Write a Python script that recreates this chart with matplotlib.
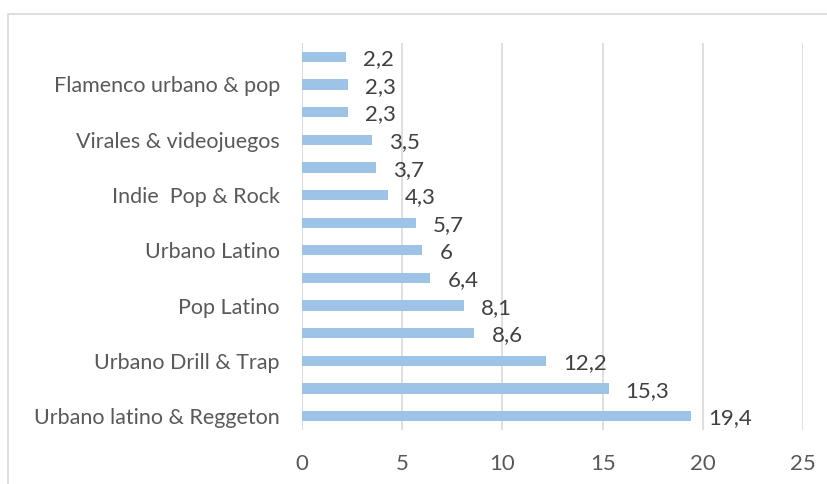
import matplotlib.pyplot as plt
from matplotlib.patches import Rectangle

# categorias de abajo hacia arriba (las impares no se rotulan en el eje)
generos = ['Urbano latino & Reggeton', '', 'Urbano Drill & Trap', '', 'Pop Latino', '',
           'Urbano Latino', '', 'Indie  Pop & Rock', '', 'Virales & videojuegos', '',
           'Flamenco urbano & pop', '']
porcentajes = [19.4, 15.3, 12.2, 8.6, 8.1, 6.4, 6, 5.7, 4.3, 3.7, 3.5, 2.3, 2.3, 2.2]
ticks_x = [0, 5, 10, 15, 20, 25]

plt.rcParams['font.family'] = ['Lato', 'DejaVu Sans']
gris = '#595959'

fig = plt.figure(figsize=(8.27, 4.84), dpi=100)
# marco del grafico
fig.patches.append(Rectangle((8 / 827, -0.1), 1.2, 0.1 + 470 / 484, transform=fig.transFigure,
                             fill=False, edgecolor='#d9d9d9', linewidth=1.2))
ax = fig.add_axes([302 / 827, 54 / 484, 501 / 827, 387 / 484])

pos = list(range(len(porcentajes)))
ax.barh(pos, porcentajes, height=0.37, color='#9dc3e6', zorder=3)
for y, v in zip(pos, porcentajes):
    txt = f'{v:g}'.replace('.', ',')
    ax.text(v + 0.85, y - 0.08, txt, va='center', ha='left', fontsize=16, color='#404040')

ax.set_xlim(0, 25)
ax.set_ylim(-0.5, len(porcentajes) - 0.5)
ax.set_xticks(ticks_x)
ax.set_xticklabels([str(t) for t in ticks_x], fontsize=16, color=gris)
ax.set_yticks(pos[::2])
ax.set_yticklabels(generos[::2], fontsize=15.5, color=gris)
ax.tick_params(length=0, pad=17, axis='x')
ax.tick_params(length=0, pad=16, axis='y')
ax.grid(axis='x', color='#d9d9d9', linewidth=1.2, zorder=0)
for s in ax.spines.values():
    s.set_visible(False)
ax.axvline(0, color='#d9d9d9', linewidth=1.2, zorder=1)

fig.savefig('out.png', dpi=100)
